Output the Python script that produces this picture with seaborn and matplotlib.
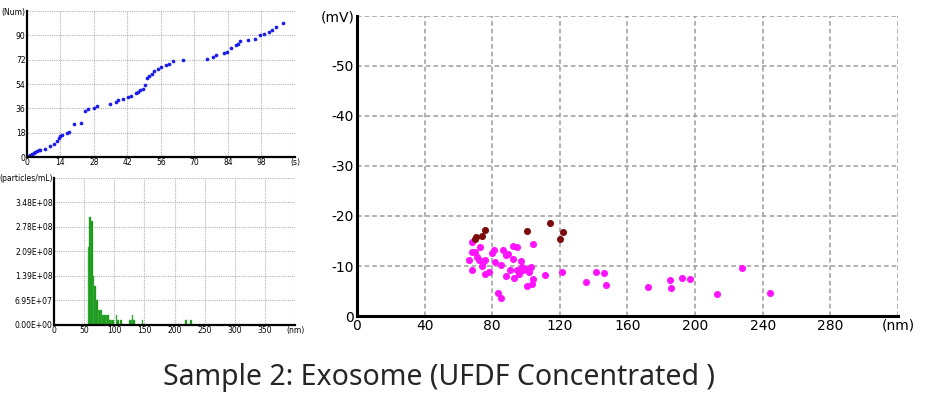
import numpy as np
import pandas as pd
import matplotlib
matplotlib.use("Agg")
import matplotlib.pyplot as plt
import seaborn as sns

sns.set_theme(style="white")
plt.rcParams["font.family"] = ["DejaVu Sans"]

# --- donnees : nombre cumule de particules vs temps (s)
time_s = [0.7, 1.4, 2.1, 2.8, 3.5, 4.2, 4.9, 5.6, 7.6, 9.7, 11.4, 12.5, 13.3, 13.9, 14.7,
          16.7, 17.7, 19.5, 22.5, 24.3, 25.3, 28.2, 29.2, 34.5, 37.3, 38.2, 40.3,
          42.4, 43.4, 45.5, 46.4, 47.3, 48.4, 49.2, 50.0, 51.2, 52.1, 53.1, 54.9,
          56.2, 58.1, 59.5, 61.2, 65.1, 75.3, 77.8, 79.2, 82.3, 83.4, 85.1,
          87.3, 88.3, 89.2, 92.2, 95.2, 97.3, 98.9, 101.2, 102.2, 104.0, 107.0]
count_num = [0.5, 1.7, 2.5, 3.2, 3.7, 4.4, 4.9, 5.4, 6.2, 8.1, 9.9, 11.6, 13.8, 15.5, 16.5,
             17.8, 18.5, 24.2, 25.2, 34.0, 35.5, 36.2, 37.5, 39.5, 40.7, 41.9, 43.2,
             44.4, 45.1, 47.3, 48.3, 49.3, 50.0, 53.3, 58.4, 59.7, 61.6, 63.6, 65.3,
             66.6, 67.8, 69.0, 70.8, 71.5, 72.7, 74.0, 75.2, 76.9, 77.7, 80.6,
             82.6, 83.8, 85.8, 86.8, 87.5, 90.0, 91.2, 92.5, 93.7, 96.2, 99.1]
time_ticks = [0, 14, 28, 42, 56, 70, 84, 98, 112]
time_labels = ["0", "14", "28", "42", "56", "70", "84", "98", "(s)"]
num_ticks = [0, 18, 36, 54, 72, 90, 108]
num_labels = ["0", "18", "36", "54", "72", "90", "(Num)"]

# --- donnees : distribution de taille (particles/mL)
size_bin_nm = [57.45, 60.15, 62.85, 65.55, 68.25, 70.95, 73.65, 76.35, 79.05, 81.75,
               84.45, 87.15, 89.85, 92.55, 95.25, 97.95, 103.35, 106.05, 111.45,
               124.95, 127.65, 130.35, 133.05, 146.55, 219.45, 227.55]
conc_ml = [2.22e8, 3.06e8, 2.95e8, 1.39e8, 1.12e8, 6.95e7, 4.17e7, 4.17e7, 4.17e7,
           2.78e7, 2.78e7, 2.78e7, 2.78e7, 1.39e7, 1.39e7, 1.39e7, 2.78e7, 1.39e7,
           1.39e7, 1.39e7, 1.39e7, 2.78e7, 1.39e7, 1.39e7, 1.39e7, 1.39e7]
conc_ticks = [0, 6.95e7, 1.39e8, 2.085e8, 2.78e8, 3.475e8, 4.17e8]
conc_labels = ["0.00E+00", "6.95E+07", "1.39E+08", "2.09E+08", "2.78E+08", "3.48E+08",
               "(particles/mL)"]
hist_ticks = [0, 50, 100, 150, 200, 250, 300, 350, 400]
hist_labels = ["0", "50", "100", "150", "200", "250", "300", "350", "(nm)"]

# --- donnees : potentiel zeta vs taille
size_dark = [70.0, 70.4, 74.0, 76.0, 100.5, 114.2, 120.1, 122.1]
zeta_dark = [-15.4, -15.7, -16.0, -17.2, -16.9, -18.6, -15.3, -16.7]
size_pink = [66.1, 68.2, 68.2, 68.2, 70.0, 71.1, 72.9, 72.2, 74.0, 74.5,
             76.0, 76.0, 77.9, 79.7, 81.3, 81.9, 85.1, 83.5, 85.1, 86.5,
             88.0, 89.2, 88.0, 90.3, 92.1, 92.1, 94.4, 92.6, 94.8, 96.0,
             97.1, 97.5, 98.2, 100.5, 101.6, 102.7, 100.5, 103.4, 104.3, 104.3,
             111.3, 121.2, 135.2, 141.1, 146.0, 147.2, 172.0, 184.9, 186.0, 192.1,
             197.1, 213.1, 228.0, 244.2]
zeta_pink = [-11.3, -14.7, -12.9, -9.2, -12.9, -11.9, -13.7, -11.2, -10.0, -10.9,
             -11.3, -8.5, -8.8, -12.7, -13.2, -10.9, -10.2, -4.6, -3.7, -13.2,
             -12.3, -12.5, -8.0, -9.2, -11.5, -14.0, -13.7, -7.7, -9.3, -8.5,
             -11.1, -9.8, -9.2, -9.5, -8.8, -9.8, -6.0, -6.5, -7.5, -14.4,
             -8.2, -8.8, -6.8, -8.8, -8.7, -6.3, -5.8, -7.2, -5.6, -7.7,
             -7.4, -4.5, -9.7, -4.6]
zeta_xticks = [0, 40, 80, 120, 160, 200, 240, 280, 320]
zeta_xlabels = ["0", "40", "80", "120", "160", "200", "240", "280", "(nm)"]
zeta_yticks = [0, -10, -20, -30, -40, -50, -60]
zeta_ylabels = ["0", "-10", "-20", "-30", "-40", "-50", "(mV)"]

TITLE = "Sample 2: Exosome (UFDF Concentrated )"


def style_axes(ax, spine_w, grid_kw, fs, pad):
    for s in ["top", "right"]:
        ax.spines[s].set_visible(False)
    for s in ["left", "bottom"]:
        ax.spines[s].set_color("black")
        ax.spines[s].set_linewidth(spine_w)
        ax.spines[s].set_zorder(5)
    ax.grid(True, **grid_kw)
    ax.set_axisbelow(True)
    ax.tick_params(length=0, labelsize=fs, pad=pad, colors="black")
    ax.set_xlabel("")
    ax.set_ylabel("")


fig = plt.figure(figsize=(9.27, 4.12), dpi=100)
fig.patch.set_facecolor("white")

small_grid = dict(color="#b4b4b4", linestyle=(0, (1, 1)), linewidth=0.8)

# 1) courbe cumulative
ax1 = fig.add_axes([0.0291, 0.6189, 0.2891, 0.3544])
sns.scatterplot(x=time_s, y=count_num, ax=ax1, color="#1c1ce8", s=7, linewidth=0)
ax1.set_xlim(0, 112)
ax1.set_ylim(0, 108)
ax1.set_xticks(time_ticks, time_labels)
ax1.set_yticks(num_ticks, num_labels)
style_axes(ax1, 1.6, small_grid, 5.5, 1)

# 2) histogramme de concentration
ax2 = fig.add_axes([0.0583, 0.2112, 0.26, 0.3568])
hist_df = pd.DataFrame({"size": size_bin_nm, "conc": conc_ml})
sns.histplot(data=hist_df, x="size", weights="conc", binwidth=2.7,
             binrange=(56.1, 228.9), ax=ax2,
             color="#138f13", edgecolor="#4cc04c", linewidth=0.3, alpha=1)
ax2.set_xlim(0, 400)
ax2.set_ylim(0, 4.17e8)
ax2.set_xticks(hist_ticks, hist_labels)
ax2.set_yticks(conc_ticks, conc_labels)
style_axes(ax2, 1.6, small_grid, 5.5, 1)

# 3) potentiel zeta
ax3 = fig.add_axes([0.3851, 0.233, 0.5836, 0.7282])
sns.scatterplot(x=size_pink, y=zeta_pink, ax=ax3, color="#ff14ff", s=26, linewidth=0)
sns.scatterplot(x=size_dark, y=zeta_dark, ax=ax3, color="#7c0c0c", s=26, linewidth=0)
ax3.set_xlim(0, 320)
ax3.set_ylim(0, -60)
ax3.set_xticks(zeta_xticks, zeta_xlabels)
ax3.set_yticks(zeta_yticks, zeta_ylabels)
style_axes(ax3, 2.2, dict(color="#9c9c9c", linestyle=(0, (3, 2)), linewidth=1.1), 10, 2)

fig.text(0.4736, 0.083, TITLE, ha="center", va="center", fontsize=20.5,
         family=["Noto Sans", "DejaVu Sans"])

plt.savefig("out.png", dpi=100, facecolor="white")
